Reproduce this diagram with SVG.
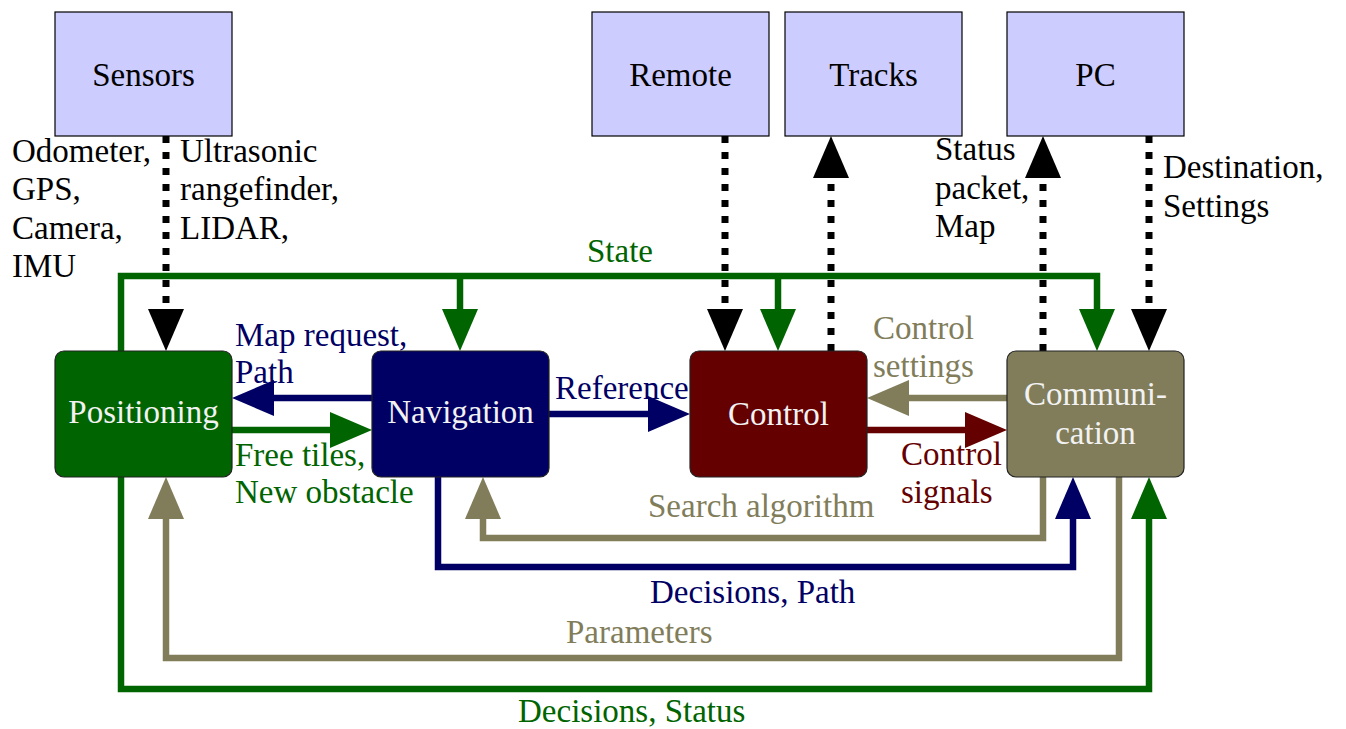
<svg xmlns="http://www.w3.org/2000/svg" width="1346" height="729" viewBox="0 0 1346 729" font-family="'Liberation Serif', serif" font-size="33">
<style>
text{font-family:'Liberation Serif',serif;font-size:33px}
.ext rect{fill:#ccccff;stroke:#000;stroke-width:1.2}
.mid rect{stroke:#222;stroke-width:1.2}
.ext text{fill:#000;text-anchor:middle}
.mid text{fill:#f2f2f2;text-anchor:middle}
.c{fill:none;stroke-width:6.5;stroke-linejoin:miter}
.dot{fill:none;stroke:#000;stroke-width:7;stroke-dasharray:7 9}
.g{stroke:#006400}.n{stroke:#000064}.r{stroke:#640000}.o{stroke:#817d5a}
.tg{fill:#006400}.tn{fill:#000064}.tr{fill:#640000}.to{fill:#817d5a}.tk{fill:#000}
</style>
<defs>
<marker id="ak" markerUnits="userSpaceOnUse" markerWidth="42" markerHeight="36" refX="0" refY="18" orient="auto" overflow="visible"><path d="M0,0L42,18L0,36z" fill="#000"/></marker>
<marker id="ag" markerUnits="userSpaceOnUse" markerWidth="42" markerHeight="36" refX="0" refY="18" orient="auto" overflow="visible"><path d="M0,0L42,18L0,36z" fill="#006400"/></marker>
<marker id="an" markerUnits="userSpaceOnUse" markerWidth="42" markerHeight="36" refX="0" refY="18" orient="auto" overflow="visible"><path d="M0,0L42,18L0,36z" fill="#000064"/></marker>
<marker id="ar" markerUnits="userSpaceOnUse" markerWidth="42" markerHeight="36" refX="0" refY="18" orient="auto" overflow="visible"><path d="M0,0L42,18L0,36z" fill="#640000"/></marker>
<marker id="ao" markerUnits="userSpaceOnUse" markerWidth="42" markerHeight="36" refX="0" refY="18" orient="auto" overflow="visible"><path d="M0,0L42,18L0,36z" fill="#817d5a"/></marker>
</defs>
<g id="connectors">
<path class="c g" d="M121,351V276H1097V309" marker-end="url(#ag)"/>
<path class="c g" d="M460,276V309" marker-end="url(#ag)"/>
<path class="c g" d="M778,276V309" marker-end="url(#ag)"/>
<path class="dot" d="M166,136V309" marker-end="url(#ak)"/>
<path class="dot" d="M725,136V309" marker-end="url(#ak)"/>
<path class="dot" d="M831,351V178" marker-end="url(#ak)"/>
<path class="dot" d="M1043,351V178" marker-end="url(#ak)"/>
<path class="dot" d="M1149,136V309" marker-end="url(#ak)"/>
<path class="c n" d="M372,398H274" marker-end="url(#an)"/>
<path class="c g" d="M232,430H330" marker-end="url(#ag)"/>
<path class="c n" d="M549,414H648" marker-end="url(#an)"/>
<path class="c o" d="M1007,398H909" marker-end="url(#ao)"/>
<path class="c r" d="M867,430H965" marker-end="url(#ar)"/>
<path class="c o" d="M1043,477V538H483V519" marker-end="url(#ao)"/>
<path class="c n" d="M438,477V567H1073V519" marker-end="url(#an)"/>
<path class="c o" d="M1119,477V658H166V519" marker-end="url(#ao)"/>
<path class="c g" d="M121,477V689H1149V519" marker-end="url(#ag)"/>
<text class="tk" x="12" y="162">Odometer,</text>
<text class="tk" x="12" y="200">GPS,</text>
<text class="tk" x="12" y="239">Camera,</text>
<text class="tk" x="12" y="277">IMU</text>
<text class="tk" x="180" y="162">Ultrasonic</text>
<text class="tk" x="180" y="200">rangefinder,</text>
<text class="tk" x="180" y="239">LIDAR,</text>
<text class="tg" x="620" y="262" text-anchor="middle">State</text>
<text class="tn" x="235" y="346">Map request,</text>
<text class="tn" x="235" y="383">Path</text>
<text class="tg" x="235" y="466">Free tiles,</text>
<text class="tg" x="235" y="503">New obstacle</text>
<text class="tn" x="555" y="399">Reference</text>
<text class="to" x="873" y="339">Control</text>
<text class="to" x="873" y="377">settings</text>
<text class="tr" x="901" y="465">Control</text>
<text class="tr" x="901" y="503">signals</text>
<text class="to" x="648" y="517">Search algorithm</text>
<text class="tn" x="650" y="603">Decisions, Path</text>
<text class="to" x="566" y="643">Parameters</text>
<text class="tg" x="518" y="722">Decisions, Status</text>
<text class="tk" x="935" y="160">Status</text>
<text class="tk" x="935" y="199">packet,</text>
<text class="tk" x="935" y="237">Map</text>
<text class="tk" x="1163" y="178">Destination,</text>
<text class="tk" x="1163" y="217">Settings</text>
</g>
<g id="sensors" class="ext"><rect x="55" y="12" width="177" height="124"/><text x="143.5" y="86">Sensors</text></g>
<g id="remote" class="ext"><rect x="592" y="12" width="177" height="124"/><text x="680.5" y="86">Remote</text></g>
<g id="tracks" class="ext"><rect x="785" y="12" width="177" height="124"/><text x="873.5" y="86">Tracks</text></g>
<g id="pc" class="ext"><rect x="1007" y="12" width="177" height="124"/><text x="1095.5" y="86">PC</text></g>
<g id="positioning" class="mid"><rect x="55" y="351" width="177" height="126" rx="9" fill="#006400"/><text x="143.5" y="423">Positioning</text></g>
<g id="navigation" class="mid"><rect x="372" y="351" width="177" height="126" rx="9" fill="#000064"/><text x="460.5" y="423">Navigation</text></g>
<g id="control" class="mid"><rect x="690" y="351" width="177" height="126" rx="9" fill="#640000"/><text x="778.5" y="425">Control</text></g>
<g id="communication" class="mid"><rect x="1007" y="351" width="177" height="126" rx="9" fill="#817d5a"/><text x="1095.5" y="405">Communi-</text><text x="1095.5" y="444">cation</text></g>
</svg>
